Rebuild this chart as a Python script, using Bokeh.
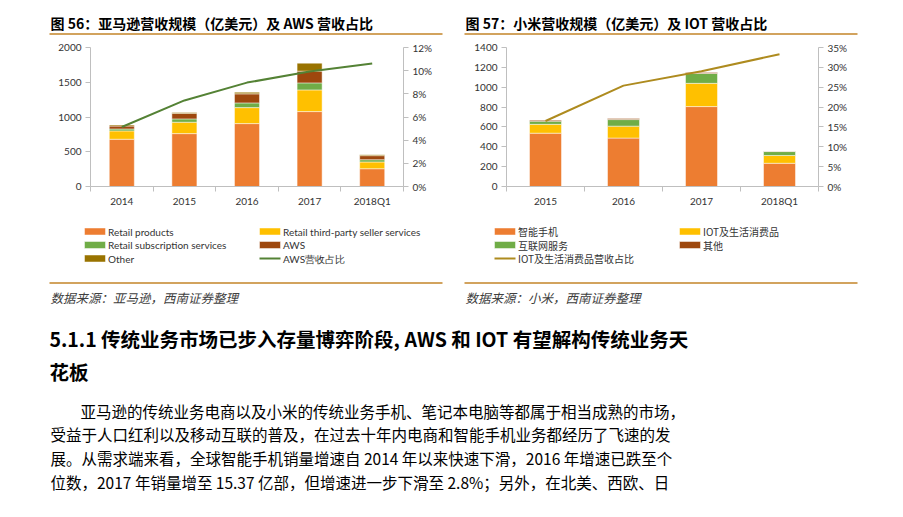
from bokeh.plotting import figure
from bokeh.models import (Range1d, LinearAxis, FixedTicker, NumeralTickFormatter, Label,
                          BoxAnnotation, ColumnDataSource)
from bokeh.layouts import column, row
from bokeh.embed import file_html
from bokeh.resources import INLINE

# ---------------- data: 图56 Amazon ----------------
amz_years = ["2014", "2015", "2016", "2017", "2018Q1"]
amz_retail = [680, 761, 905, 1078, 256]
amz_3p = [120, 164, 230, 312, 97]
amz_subs = [28, 48, 68, 101, 33]
amz_aws = [42, 79, 130, 169, 58]
amz_other = [16, 14, 24, 115, 14]
amz_aws_share = [0.0514, 0.0743, 0.0897, 0.0992, 0.1061]
amz_left_ticks = [0, 500, 1000, 1500, 2000]
amz_right_ticks = [0, 0.02, 0.04, 0.06, 0.08, 0.10, 0.12]
amz_series = ["Retail products", "Retail third-party seller services",
              "Retail subscription services", "AWS", "Other"]
amz_line_name = "AWS营收占比"

# ---------------- data: 图57 Xiaomi ----------------
mi_years = ["2015", "2016", "2017", "2018Q1"]
mi_phone = [537, 488, 805, 234]
mi_iot = [89, 120, 234, 78]
mi_internet = [32, 66, 99, 40]
mi_other = [10, 10, 9, 2]
mi_iot_share = [0.165, 0.254, 0.290, 0.333]
mi_left_ticks = [0, 200, 400, 600, 800, 1000, 1200, 1400]
mi_right_ticks = [0, 0.05, 0.10, 0.15, 0.20, 0.25, 0.30, 0.35]
mi_series = ["智能手机", "IOT及生活消费品", "互联网服务", "其他"]
mi_line_name = "IOT及生活消费品营收占比"

C_ORANGE = "#ED7D31"
C_GOLD = "#FFC000"
C_GREEN = "#70AD47"
C_BROWN = "#9E480E"
C_OLIVE = "#997300"
C_LINE1 = "#548235"
C_LINE2 = "#AE8B1F"
C_RULE = "#D2A35E"
AX = "#BFBFBF"
TXT = "#333333"
CJK = "Noto Sans CJK SC"
LAT = "Lato"

BAR_LINE = dict(line_color="white", line_width=0.8, line_alpha=0.6)


def canvas(width, height, x0, y0):
    """A blank figure whose frame is the whole canvas, in page pixel coordinates."""
    p = figure(width=width, height=height, x_range=Range1d(x0, x0 + width),
               y_range=Range1d(y0 + height, y0), output_backend="svg", toolbar_location=None,
               x_axis_location=None, y_axis_location=None, min_border=0)
    p.frame_align = False
    p.grid.visible = False
    p.outline_line_color = None
    return p


def text(p, x, y, t, size, style="normal", color="#000000", font=CJK):
    p.add_layout(Label(x=x, y=y, text=t, text_font=font, text_font_size=f"{size}px",
                       text_font_style=style, text_color=color, text_baseline="middle",
                       text_align="left"))


def box(p, x0, x1, y0, y1, color, line=None):
    p.add_layout(BoxAnnotation(left=x0, right=x1, top=y0, bottom=y1, fill_color=color,
                               fill_alpha=1, line_color=line, line_alpha=0.6, line_width=0.8))


def rule(p, x0, x1, y):
    box(p, x0, x1, y - 1, y + 1, C_RULE)


def legend_entry(p, x, y, label, color, kind, font):
    if kind == "bar":
        box(p, x, x + 21, y - 3.5, y + 3.5, color, "white")
    else:
        box(p, x, x + 21, y - 1, y + 1, color)
    text(p, x + 23.5, y, label, 10, color=TXT, font=font)


def chart_fig(width, n, ymax, ml, mr):
    p = figure(width=width, height=180, x_range=Range1d(-0.5, n - 0.5), y_range=Range1d(0, ymax),
               output_backend="svg", toolbar_location=None, min_border_left=ml,
               min_border_right=mr, min_border_top=7, min_border_bottom=34)
    p.frame_align = False
    p.grid.visible = False
    p.outline_line_color = None
    return p


def style_axes(p, labels, lticks, rticks, rname):
    xa = p.xaxis[0]
    n = len(labels)
    xa.ticker = FixedTicker(ticks=list(range(n)), minor_ticks=[i - 0.5 for i in range(n + 1)])
    xa.major_label_overrides = {i: lab for i, lab in enumerate(labels)}
    xa.major_tick_out = 0
    xa.major_tick_in = 0
    xa.minor_tick_out = 5
    xa.minor_tick_in = 0
    xa.minor_tick_line_color = AX
    xa.axis_line_color = AX
    xa.major_label_standoff = 3
    ya = p.yaxis[0]
    ya.ticker = FixedTicker(ticks=lticks)
    ra = LinearAxis(y_range_name=rname, ticker=FixedTicker(ticks=rticks),
                    formatter=NumeralTickFormatter(format="0%"))
    p.add_layout(ra, "right")
    for a in (ya, ra):
        a.major_tick_out = 5
        a.major_tick_in = 0
        a.minor_tick_line_color = None
        a.major_tick_line_color = AX
        a.axis_line_color = AX
        a.major_label_standoff = 4
    for a in (xa, ya, ra):
        a.major_label_text_font = LAT
        a.major_label_text_font_size = "10px"
        a.major_label_text_color = TXT


ROWS = [231, 244.5, 258]

# ================= chart 56 =================
t1 = canvas(450, 40, 0, 0)
text(t1, 50, 22, "图 56：亚马逊营收规模（亿美元）及 AWS 营收占比", 14, "bold")
rule(t1, 49, 442, 33.5)

p1 = chart_fig(450, len(amz_years), 2000, 90, 47)
p1.extra_y_ranges = {"pct": Range1d(0, 0.12)}
style_axes(p1, amz_years, amz_left_ticks, amz_right_ticks, "pct")
src1 = ColumnDataSource(dict(x=list(range(len(amz_years))), retail=amz_retail, tp=amz_3p,
                             subs=amz_subs, aws=amz_aws, other=amz_other, share=amz_aws_share))
amz_colors = [C_ORANGE, C_GOLD, C_GREEN, C_BROWN, C_OLIVE]
p1.vbar_stack(["retail", "tp", "subs", "aws", "other"], x="x", width=0.4, source=src1,
              fill_color=amz_colors, **BAR_LINE)
p1.line("x", "share", source=src1, y_range_name="pct", line_color=C_LINE1, line_width=2)

b1 = canvas(450, 90, 0, 220)
legend_entry(b1, 84, ROWS[0], amz_series[0], amz_colors[0], "bar", LAT)
legend_entry(b1, 84, ROWS[1], amz_series[2], amz_colors[2], "bar", LAT)
legend_entry(b1, 84, ROWS[2], amz_series[4], amz_colors[4], "bar", LAT)
legend_entry(b1, 259, ROWS[0], amz_series[1], amz_colors[1], "bar", LAT)
legend_entry(b1, 259, ROWS[1], amz_series[3], amz_colors[3], "bar", LAT)
legend_entry(b1, 259, ROWS[2], amz_line_name, C_LINE1, "line", LAT)
rule(b1, 49, 442, 282.5)
text(b1, 50, 297, "数据来源：亚马逊，西南证券整理", 12.5, "italic", "#404040")

# ================= chart 57 =================
t2 = canvas(453, 40, 450, 0)
text(t2, 465, 22, "图 57：小米营收规模（亿美元）及 IOT 营收占比", 14, "bold")
rule(t2, 464, 857, 33.5)

p2 = chart_fig(453, len(mi_years), 1400, 56, 85)
p2.extra_y_ranges = {"pct": Range1d(0, 0.35)}
style_axes(p2, mi_years, mi_left_ticks, mi_right_ticks, "pct")
src2 = ColumnDataSource(dict(x=list(range(len(mi_years))), phone=mi_phone, iot=mi_iot,
                             net=mi_internet, oth=mi_other, share=mi_iot_share))
mi_colors = [C_ORANGE, C_GOLD, C_GREEN, C_BROWN]
p2.vbar_stack(["phone", "iot", "net", "oth"], x="x", width=0.41, source=src2,
              fill_color=mi_colors, **BAR_LINE)
p2.line("x", "share", source=src2, y_range_name="pct", line_color=C_LINE2, line_width=2)

b2 = canvas(453, 90, 450, 220)
legend_entry(b2, 494, ROWS[0], mi_series[0], mi_colors[0], "bar", CJK)
legend_entry(b2, 494, ROWS[1], mi_series[2], mi_colors[2], "bar", CJK)
legend_entry(b2, 494, ROWS[2], mi_line_name, C_LINE2, "line", CJK)
legend_entry(b2, 679, ROWS[0], mi_series[1], mi_colors[1], "bar", CJK)
legend_entry(b2, 679, ROWS[1], mi_series[3], mi_colors[3], "bar", CJK)
rule(b2, 464, 857, 282.5)
text(b2, 465, 297, "数据来源：小米，西南证券整理", 12.5, "italic", "#404040")

# ================= text block =================
p3 = canvas(903, 207, 0, 310)
heading = ["5.1.1  传统业务市场已步入存量博弈阶段, AWS 和 IOT 有望解构传统业务天", "花板"]
body = ["亚马逊的传统业务电商以及小米的传统业务手机、笔记本电脑等都属于相当成熟的市场，",
        "受益于人口红利以及移动互联的普及，在过去十年内电商和智能手机业务都经历了飞速的发",
        "展。从需求端来看，全球智能手机销量增速自 2014 年以来快速下滑，2016 年增速已跌至个",
        "位数，2017 年销量增至 15.37 亿部，但增速进一步下滑至 2.8%；另外，在北美、西欧、日"]
for i, t in enumerate(heading):
    text(p3, 49, 338 + 33 * i, t, 19.5, "bold")
for i, t in enumerate(body):
    text(p3, 80 if i == 0 else 50, 410 + 23.7 * i, t, 15.5)

layout = column(row(column(t1, p1, b1), column(t2, p2, b2)), p3)
open("out.html", "w").write(file_html(layout, INLINE))
